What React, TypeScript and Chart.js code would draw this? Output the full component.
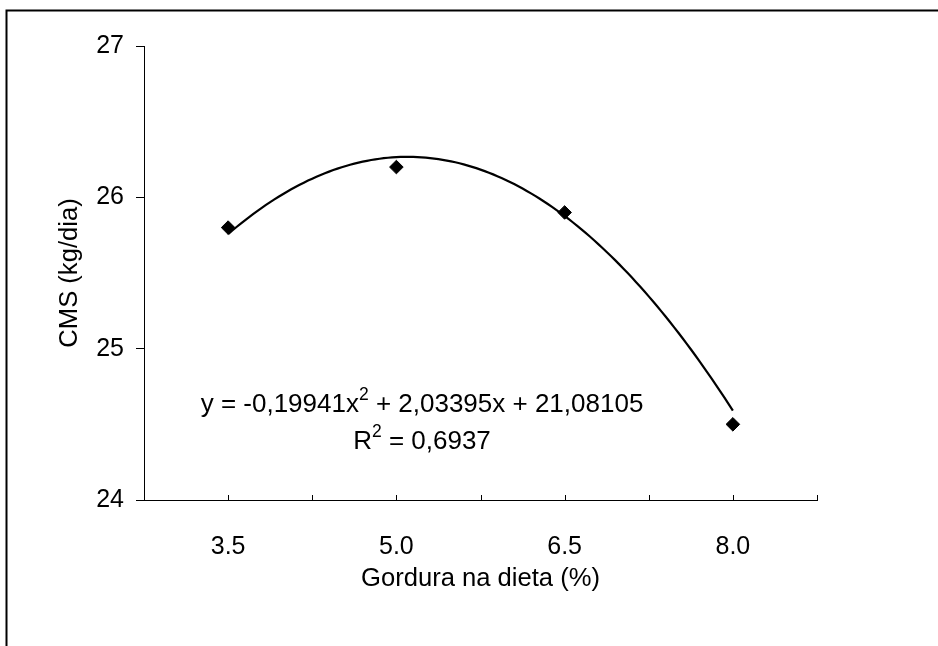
import { useEffect, useRef } from 'react';
import { Chart, registerables } from 'chart.js';

Chart.register(...registerables);

// Dry matter intake by dietary fat level
const fatLevels = [3.5, 5.0, 6.5, 8.0];
const intake = [25.8, 26.2, 25.9, 24.5];
const yTickValues = [24, 25, 26, 27];

// Quadratic fit y = a·x² + b·x + c and its R²
const trendCoeffs = [-0.19941, 2.03395, 21.08105];
const rSquared = 0.6937;

const xTitle = 'Gordura na dieta (%)';
const yTitle = 'CMS (kg/dia)';

const FONT_FAMILY = '"Liberation Sans", Arial, Helvetica, sans-serif';
const tickFont = { family: FONT_FAMILY, size: 25, lineHeight: 1.2 };
const titleFont = { family: FONT_FAMILY, size: 25.6, lineHeight: 1.2 };

const comma = (v: number, digits: number) => v.toFixed(digits).replace('.', ',');

const trendAt = (x: number) => trendCoeffs[0] * x * x + trendCoeffs[1] * x + trendCoeffs[2];

// Points along the fitted curve between the first and last fat level
const trendPoints: { x: number; y: number }[] = [];
{
  const first = fatLevels[0];
  const last = fatLevels[fatLevels.length - 1];
  const n = 120;
  for (let i = 0; i <= n; i++) {
    const x = first + ((last - first) * i) / n;
    trendPoints.push({ x, y: trendAt(x) });
  }
}

const catStep = fatLevels[1] - fatLevels[0];
const xMin = fatLevels[0] - catStep / 2;
const xMax = fatLevels[fatLevels.length - 1] + catStep / 2;

// Draws text segments where some pieces are superscripts, centred on cx
function drawRichLine(
  ctx: CanvasRenderingContext2D,
  parts: { text: string; sup?: boolean }[],
  cx: number,
  baseline: number,
) {
  const mainFont = `26px ${FONT_FAMILY}`;
  const supFont = `17.5px ${FONT_FAMILY}`;
  let total = 0;
  const widths = parts.map((p) => {
    ctx.font = p.sup ? supFont : mainFont;
    const w = ctx.measureText(p.text).width;
    total += w;
    return w;
  });
  let x = cx - total / 2;
  ctx.textAlign = 'left';
  ctx.textBaseline = 'alphabetic';
  parts.forEach((p, i) => {
    ctx.font = p.sup ? supFont : mainFont;
    ctx.fillText(p.text, x, p.sup ? baseline - 12.5 : baseline);
    x += widths[i];
  });
}

const decorations = {
  id: 'decorations',
  afterDraw(chart: Chart) {
    const { ctx, chartArea } = chart;
    const xScale = chart.scales.x;
    ctx.save();

    // Outer frame (top and left edges)
    ctx.strokeStyle = '#000';
    ctx.lineWidth = 2;
    ctx.beginPath();
    ctx.moveTo(chart.width, 10.5);
    ctx.lineTo(6.5, 10.5);
    ctx.lineTo(6.5, chart.height);
    ctx.stroke();

    // Inward tick marks on the x axis
    ctx.lineWidth = 1;
    ctx.beginPath();
    xScale.ticks.forEach((t) => {
      const px = Math.round(xScale.getPixelForValue(t.value)) + 0.5;
      ctx.moveTo(px, chartArea.bottom);
      ctx.lineTo(px, chartArea.bottom - 5);
    });
    ctx.stroke();

    // Fitted equation and R²
    ctx.fillStyle = '#000';
    const cx = chartArea.left + 278;
    const [a, b, c] = trendCoeffs;
    drawRichLine(
      ctx,
      [
        { text: `y = ${comma(a, 5)}x` },
        { text: '2', sup: true },
        { text: ` + ${comma(b, 5)}x + ${comma(c, 5)}` },
      ],
      cx,
      chartArea.top + 366,
    );
    drawRichLine(
      ctx,
      [{ text: 'R' }, { text: '2', sup: true }, { text: ` = ${comma(rSquared, 4)}` }],
      cx,
      chartArea.top + 403,
    );
    ctx.restore();
  },
};

export default function App() {
  const canvasRef = useRef<HTMLCanvasElement | null>(null);

  useEffect(() => {
    const canvas = canvasRef.current;
    if (!canvas) return;

    const chart = new Chart(canvas, {
      type: 'scatter',
      data: {
        datasets: [
          {
            label: 'CMS',
            data: fatLevels.map((x, i) => ({ x, y: intake[i] })),
            showLine: false,
            pointStyle: 'rectRot',
            pointRadius: 6.8,
            pointBackgroundColor: '#000',
            pointBorderColor: '#000',
            pointBorderWidth: 1,
          },
          {
            label: 'Polinomial',
            data: trendPoints,
            showLine: true,
            borderColor: '#000',
            borderWidth: 2.2,
            pointRadius: 0,
            tension: 0,
            fill: false,
          },
        ],
      },
      options: {
        responsive: false,
        animation: false,
        devicePixelRatio: 1,
        layout: { padding: { left: 0, right: 121, top: 46, bottom: 0 } },
        plugins: {
          legend: { display: false },
          tooltip: { enabled: false },
        },
        scales: {
          x: {
            type: 'linear',
            min: xMin,
            max: xMax,
            border: { display: true, color: '#000', width: 1 },
            grid: { display: false },
            ticks: {
              stepSize: catStep / 2,
              autoSkip: false,
              maxRotation: 0,
              minRotation: 0,
              padding: 24,
              color: '#000',
              font: tickFont,
              callback: (v) => (fatLevels.includes(Number(v)) ? Number(v).toFixed(1) : ''),
            },
            title: {
              display: true,
              text: xTitle,
              color: '#000',
              font: titleFont,
              padding: { top: 0, bottom: 51.5 },
            },
            afterFit: (s) => {
              s.height = 146;
            },
          },
          y: {
            type: 'linear',
            min: yTickValues[0],
            max: yTickValues[yTickValues.length - 1],
            border: { display: true, color: '#000', width: 1 },
            grid: {
              drawOnChartArea: false,
              drawTicks: true,
              tickLength: 8,
              tickColor: '#000',
              tickWidth: 1,
            },
            afterBuildTicks: (s) => {
              s.ticks = yTickValues.map((value) => ({ value }));
            },
            ticks: {
              padding: 12,
              color: '#000',
              font: tickFont,
              callback: (v) => String(v),
            },
            title: {
              display: true,
              text: yTitle,
              color: '#000',
              font: titleFont,
              padding: { top: 55, bottom: 0 },
            },
            afterFit: (s) => {
              s.width = 144;
            },
          },
        },
      },
      plugins: [decorations],
    });

    return () => chart.destroy();
  }, []);

  return (
    <div style={{ position: 'fixed', left: 0, top: 0, width: 938, height: 646, background: '#fff' }}>
      <canvas ref={canvasRef} width={938} height={646} style={{ display: 'block' }} />
    </div>
  );
}
